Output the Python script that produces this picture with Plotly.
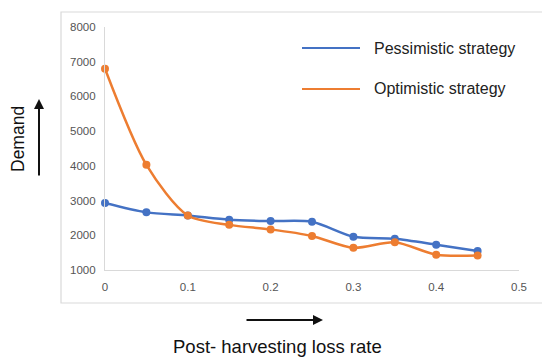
import plotly.graph_objects as go

loss_rate = [0, 0.05, 0.1, 0.15, 0.2, 0.25, 0.3, 0.35, 0.4, 0.45]
pessimistic = [2930, 2660, 2570, 2450, 2410, 2390, 1960, 1900, 1730, 1545]
optimistic = [6800, 4030, 2570, 2300, 2170, 1980, 1640, 1800, 1440, 1420]
x_ticks = [0, 0.1, 0.2, 0.3, 0.4, 0.5]
y_ticks = [1000, 2000, 3000, 4000, 5000, 6000, 7000, 8000]
series_names = ["Pessimistic strategy", "Optimistic strategy"]
BLUE = "#4472C4"
ORANGE = "#ED7D31"

fig = go.Figure()
for name, vals, col in [(series_names[0], pessimistic, BLUE), (series_names[1], optimistic, ORANGE)]:
    fig.add_trace(go.Scatter(
        x=loss_rate, y=vals, name=name, mode="lines+markers",
        line=dict(color=col, width=2.5, shape="spline", smoothing=0.8),
        marker=dict(color=col, size=8), showlegend=False, cliponaxis=False))

OFF = 8  # page body margin
W, H = 550 - OFF, 364 - OFF
L, T = 105 - OFF, 27 - OFF
R = W - (519 - OFF)
B = H - (270 - OFF)
pw, ph = W - L - R, H - T - B

def px(xs):
    return (xs - OFF - L) / pw

def py(ys):
    return (H - B - (ys - OFF)) / ph

shapes = []
shapes.append(dict(type="rect", xref="paper", yref="paper", x0=px(61), x1=px(543), y0=py(303), y1=py(12),
                   line=dict(color="#D9D9D9", width=1.2), layer="below"))
for col, ly in [(BLUE, 48), (ORANGE, 89)]:
    shapes.append(dict(type="line", xref="paper", yref="paper", x0=px(302), x1=px(360), y0=py(ly), y1=py(ly),
                       line=dict(color=col, width=2)))

annotations = []
for name, ly in zip(series_names, [48, 89]):
    annotations.append(dict(text=name, xref="paper", yref="paper", x=px(372), y=py(ly), xanchor="left",
                            yanchor="middle", showarrow=False,
                            font=dict(family="Liberation Sans, Arial", size=16, color="#222222")))
annotations.append(dict(text="Post- harvesting loss rate", xref="paper", yref="paper", x=px(277), y=py(346),
                        xanchor="center", yanchor="middle", showarrow=False,
                        font=dict(family="Liberation Sans, Arial", size=18.5, color="#111111")))
annotations.append(dict(text="Demand", xref="paper", yref="paper", x=px(18), y=py(139), textangle=-90,
                        xanchor="center", yanchor="middle", showarrow=False,
                        font=dict(family="Liberation Sans, Arial", size=17.5, color="#111111")))
annotations.append(dict(text="", xref="paper", yref="paper", axref="pixel", ayref="pixel",
                        x=px(323), y=py(320), ax=-78, ay=0, showarrow=True,
                        arrowhead=2, arrowsize=1, arrowwidth=2, arrowcolor="#111111"))
annotations.append(dict(text="", xref="paper", yref="paper", axref="pixel", ayref="pixel",
                        x=px(39), y=py(99), ax=0, ay=78, showarrow=True,
                        arrowhead=2, arrowsize=1, arrowwidth=2, arrowcolor="#111111"))

tickfont = dict(family="Liberation Sans, Arial", size=11.5, color="#555555")
fig.update_layout(
    width=W, height=H, margin=dict(l=L, r=R, t=T, b=B),
    paper_bgcolor="white", plot_bgcolor="white",
    shapes=shapes, annotations=annotations,
    xaxis=dict(range=[0, 0.5], tickvals=x_ticks, ticktext=[f"{v:g}" for v in x_ticks],
               showgrid=False, zeroline=False, showline=True, linecolor="#D9D9D9", linewidth=1.2,
               ticks="", ticklabelstandoff=6, tickfont=tickfont),
    yaxis=dict(range=[1000, 8000], tickvals=y_ticks, ticktext=[str(v) for v in y_ticks],
               showgrid=False, zeroline=False, showline=True, linecolor="#D9D9D9", linewidth=1.2,
               ticks="", ticklabelstandoff=6, tickfont=tickfont),
)
fig.write_html("out.html")
